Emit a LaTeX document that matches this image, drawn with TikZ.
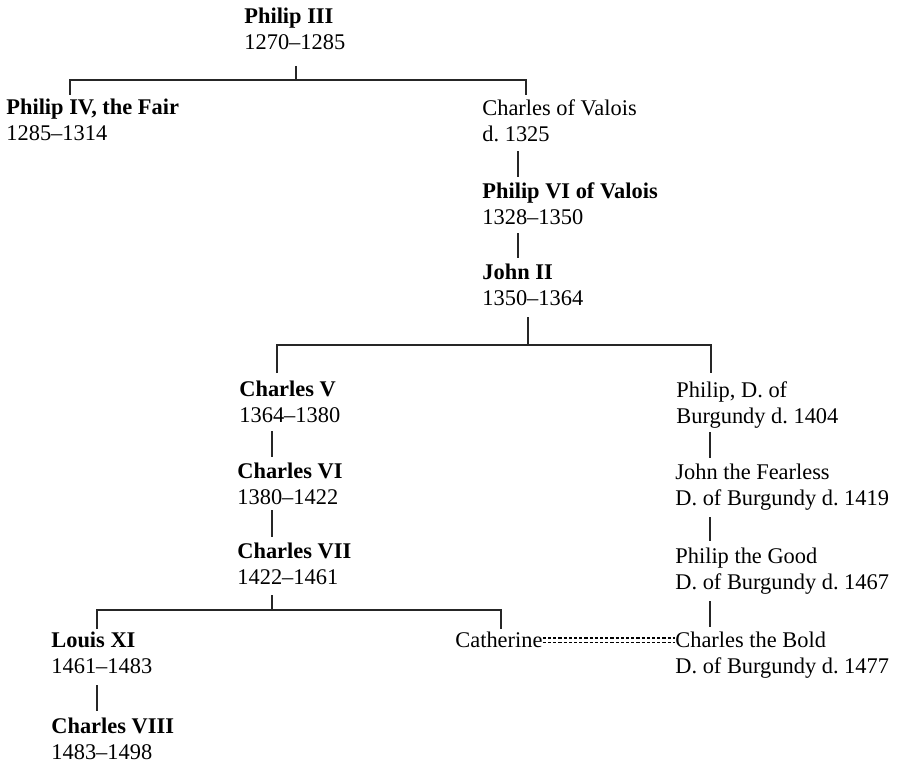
\documentclass[tikz,border=0pt]{standalone}
\usepackage{fontspec}
\setmainfont{Liberation Serif}
\frenchspacing
\tikzset{
  person/.style={anchor=north west, inner sep=0pt, align=left, font=\fontsize{11.2}{13}\selectfont},
  link/.style={draw=black!85, line width=0.6pt},
  wed/.style={draw=black, line width=0.6pt, dash pattern=on 1.6pt off 1pt}
}
\begin{document}
\begin{tikzpicture}[x=0.5pt, y=-0.5pt]
\useasboundingbox (0,0) rectangle (899,765);
% people
\node[person] (p3)  at (244,8)   {\textbf{Philip III}\\1270–1285};
\node[person] (p4)  at (6,99)    {\textbf{Philip IV, the Fair}\\1285–1314};
\node[person] (cv)  at (482,99)  {Charles of Valois\\d. 1325};
\node[person] (p6)  at (482,182) {\textbf{Philip VI of Valois}\\1328–1350};
\node[person] (j2)  at (482,264) {\textbf{John II}\\1350–1364};
\node[person] (c5)  at (239,381) {\textbf{Charles V}\\1364–1380};
\node[person] (c6)  at (237,463) {\textbf{Charles VI}\\1380–1422};
\node[person] (c7)  at (237,543) {\textbf{Charles VII}\\1422–1461};
\node[person] (l11) at (51,632)  {\textbf{Louis XI}\\1461–1483};
\node[person] (c8)  at (51,718)  {\textbf{Charles VIII}\\1483–1498};
\node[person] (cat) at (455,632) {Catherine};
\node[person] (pb)  at (676,381) {Philip, D. of\\Burgundy d. 1404};
\node[person] (jf)  at (675,464) {John the Fearless\\D. of Burgundy d. 1419};
\node[person] (pg)  at (675,548) {Philip the Good\\D. of Burgundy d. 1467};
\node[person] (cb)  at (675,632) {Charles the Bold\\D. of Burgundy d. 1477};
% junction points
\coordinate (p3o) at (296,66);
\coordinate (p3j) at (296,80);
\coordinate (p4i) at (70,95);
\coordinate (cvi) at (526,95);
\coordinate (cvo) at (518,151);
\coordinate (p6i) at (518,177);
\coordinate (p6o) at (518,233);
\coordinate (j2i) at (518,258);
\coordinate (j2o) at (528,317);
\coordinate (j2j) at (528,345);
\coordinate (c5i) at (277,373);
\coordinate (pbi) at (711,373);
\coordinate (c5o) at (272,431);
\coordinate (c6i) at (272,457);
\coordinate (c6o) at (272,510);
\coordinate (c7i) at (272,537);
\coordinate (c7o) at (272,595);
\coordinate (c7j) at (272,610);
\coordinate (l11i) at (97,629);
\coordinate (cati) at (501,629);
\coordinate (l11o) at (97,685);
\coordinate (c8i) at (97,711);
\coordinate (pbo) at (710,432);
\coordinate (jfi) at (710,458);
\coordinate (jfo) at (710,517);
\coordinate (pgi) at (710,541);
\coordinate (pgo) at (710,601);
\coordinate (cbi) at (710,627);
% connectors
\draw[link] (p3o) -- (p3j);
\draw[link] (p4i) |- (p3j) -| (cvi);
\draw[link] (cvo) -- (p6i);
\draw[link] (p6o) -- (j2i);
\draw[link] (j2o) -- (j2j);
\draw[link] (c5i) |- (j2j) -| (pbi);
\draw[link] (c5o) -- (c6i);
\draw[link] (c6o) -- (c7i);
\draw[link] (c7o) -- (c7j);
\draw[link] (l11i) |- (c7j) -| (cati);
\draw[link] (l11o) -- (c8i);
\draw[link] (pbo) -- (jfi);
\draw[link] (jfo) -- (pgi);
\draw[link] (pgo) -- (cbi);
% marriage
\draw[wed] ([yshift=1.1pt]cat.east) -- ([yshift=1.1pt]cat.east -| cb.west);
\draw[wed] ([yshift=-1.1pt]cat.east) -- ([yshift=-1.1pt]cat.east -| cb.west);
\end{tikzpicture}
\end{document}
